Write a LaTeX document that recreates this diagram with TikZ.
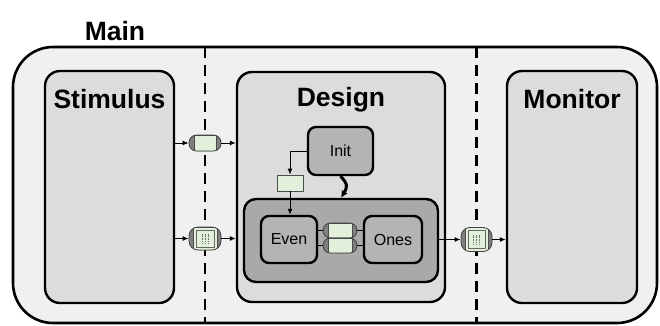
\documentclass[tikz,border=0pt]{standalone}
\usepackage{fontspec}
\setmainfont{Liberation Sans}
\usetikzlibrary{positioning,arrows.meta}

\definecolor{mainfill}{HTML}{EFF0EF}
\definecolor{panelfill}{HTML}{DCDCDC}
\definecolor{blockfill}{HTML}{B4B4B4}
\definecolor{innerfill}{HTML}{A9A9A9}
\definecolor{tokfill}{HTML}{E2EFDA}
\definecolor{capfill}{HTML}{7F7F7F}

\tikzset{
  mainbox/.style={draw, line width=2.6pt, rounded corners=40pt, fill=mainfill, inner sep=0pt},
  panel/.style={draw, line width=2.4pt, rounded corners=15pt, fill=panelfill, inner sep=0pt},
  block/.style={draw, line width=2.4pt, rounded corners=8pt, fill=blockfill, inner sep=0pt,
    font=\fontsize{16}{18}\selectfont},
  title/.style={font=\bfseries\fontsize{26.5}{30}\selectfont, inner sep=0pt},
  tok/.style={draw=black!70, line width=0.8pt, fill=tokfill, inner sep=0pt, sharp corners},
  % channel capsule: grey round ends, token in the middle
  chan/.style={draw=black!75, line width=0.8pt, fill=capfill, rounded corners=7.5pt, inner sep=0pt,
    path picture={
      \draw[tok] ([xshift=5pt]path picture bounding box.south west)
        rectangle ([xshift=-5pt]path picture bounding box.north east);}},
  % buffered channel: token with a small register icon
  chanbuf/.style={draw=black!75, line width=0.8pt, fill=capfill, rounded corners=9pt, inner sep=0pt,
    path picture={
      \draw[tok] ([xshift=4pt]path picture bounding box.south west)
        rectangle ([xshift=-4pt]path picture bounding box.north east);
      \draw[black!60, line width=0.6pt, sharp corners] ([shift={(7pt,3pt)}]path picture bounding box.south west)
        rectangle ([shift={(-7pt,-3pt)}]path picture bounding box.north east);
      \foreach \dx in {-3,0,3}
        \draw[black!55, line width=0.6pt, dash pattern=on 1pt off 0.6pt]
          ([shift={(\dx pt,-5pt)}]path picture bounding box.center) -- ++(0,10pt);}},
  wire/.style={line width=1pt, -{Latex[length=6pt,width=5pt]}},
  sep/.style={line width=2.5pt, dash pattern=on 11pt off 7pt},
}

\begin{document}
\begin{tikzpicture}[x=1pt, y=-1pt, line join=round]
\useasboundingbox (0,0) rectangle (660,325);

% Outer frame
\node[title, anchor=base] (mainlbl) at (115,40) {Main};
\node[mainbox, minimum width=644pt, minimum height=276pt] (main) at (335,185) {};

% Partition lines
\draw[sep] (205,47) -- (205,323);
\draw[sep] (476.5,47) -- (476.5,323);

% Panels
\node[panel, minimum width=129pt, minimum height=232pt] (stim) at (109.5,187) {};
\node[panel, minimum width=208pt, minimum height=230pt] (design) at (341,187) {};
\node[panel, minimum width=130pt, minimum height=232pt] (mon) at (572,187) {};
\node[title, anchor=base] (stimlbl) at ([yshift=-39pt]stim.north) {Stimulus};
\node[title, anchor=base] (designlbl) at ([yshift=-36pt]design.north) {Design};
\node[title, anchor=base] (monlbl) at ([yshift=-39pt]mon.north) {Monitor};

% Inside Design
\node[block, minimum width=65pt, minimum height=48pt] (init) at (340.5,151) {Init};
\node[block, fill=innerfill, rounded corners=12pt, minimum width=194pt, minimum height=83pt] (inner) at (341,240.5) {};
\node[block, minimum width=56pt, minimum height=47pt] (even) at (289,239.5) {Even};
\node[block, minimum width=58pt, minimum height=47pt] (ones) at (393,239.5) {Ones};
\node[tok, minimum width=26pt, minimum height=16pt] (tok) at (290,183) {};
\node[chan, minimum width=34pt, minimum height=15pt] (q1) at (340,230.5) {};
\node[chan, minimum width=34pt, minimum height=15pt] (q2) at (340,245.5) {};

\draw[wire] (init.west) -| (tok.north);
\draw[wire] (tok.south) -- (tok |- even.north);
\draw[line width=3pt, -{Latex[length=7pt,width=7pt]}] (init.south) .. controls +(8,8) and +(6,-10) .. (inner.north);
\draw[line width=0.8pt] (q1.west -| even.east) -- (q1.west) (q1.east) -- (q1.east -| ones.west);
\draw[line width=0.8pt] (q2.west -| even.east) -- (q2.west) (q2.east) -- (q2.east -| ones.west);

% Channels across the partitions
\node[chan, minimum width=32pt, minimum height=16pt] (c1) at (205,143) {};
\node[chanbuf, minimum width=32pt, minimum height=23pt] (c2) at (205,238.5) {};
\node[chanbuf, minimum width=31pt, minimum height=24pt] (c3) at (476.5,239.5) {};

\draw[wire] (c1 -| stim.east) -- (c1.west);
\draw[wire] (c1.east) -- (c1 -| design.west);
\draw[wire] (c2 -| stim.east) -- (c2.west);
\draw[wire] (c2.east) -- (c2 -| design.west);
\draw[wire] (c3 -| inner.east) -- (c3.west);
\draw[wire] (c3.east) -- (c3 -| mon.west);
\end{tikzpicture}
\end{document}
